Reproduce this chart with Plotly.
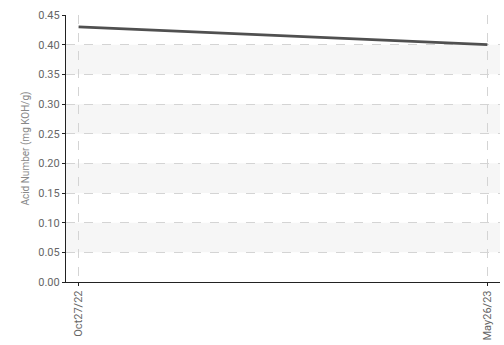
import plotly.graph_objects as go

# Sample dates and acid number readings
sample_dates = ["2022-10-27", "2023-05-26"]
acid_number = [0.43, 0.40]
tick_labels = ["Oct27/22", "May26/23"]
y_ticks = [0.00, 0.05, 0.10, 0.15, 0.20, 0.25, 0.30, 0.35, 0.40, 0.45]

fig = go.Figure()

# Alternating light bands behind the plot
shapes = []
for lo in [0.05, 0.15, 0.25, 0.35]:
    shapes.append(dict(type="rect", xref="paper", yref="y", x0=0, x1=1,
                       y0=lo, y1=lo + 0.05, fillcolor="#f6f6f6",
                       line_width=0, layer="below"))

fig.add_trace(go.Scatter(
    x=sample_dates, y=acid_number, mode="lines",
    line=dict(color="#505050", width=2.8), showlegend=False))

font_family = "Roboto, sans-serif"

fig.update_layout(
    width=504, height=345,
    margin=dict(l=66, r=4, t=15, b=63),
    paper_bgcolor="white", plot_bgcolor="white",
    shapes=shapes,
    font=dict(family=font_family, color="#777", size=11),
    xaxis=dict(
        type="date",
        range=["2022-10-20 12:00", "2023-06-01 12:00"],
        tickvals=sample_dates, ticktext=tick_labels,
        tickangle=-90, tickfont=dict(size=11, color="#666"),
        showgrid=True, gridcolor="#d4d4d4", griddash="dash", gridwidth=1,
        showline=True, linecolor="#222", linewidth=1.2,
        ticks="outside", ticklen=3, tickcolor="#222",
        zeroline=False,
    ),
    yaxis=dict(
        range=[0, 0.45],
        tickvals=y_ticks, tickformat=".2f",
        tickfont=dict(size=11, color="#666"),
        showgrid=True, gridcolor="#d4d4d4", griddash="dash", gridwidth=1,
        showline=True, linecolor="#222", linewidth=1.2,
        ticks="outside", ticklen=3, tickcolor="#222",
        zeroline=False,
        title=dict(text="Acid Number (mg KOH/g)", font=dict(size=10, color="#888"),
                   standoff=6),
    ),
)

fig.write_html("out.html")
